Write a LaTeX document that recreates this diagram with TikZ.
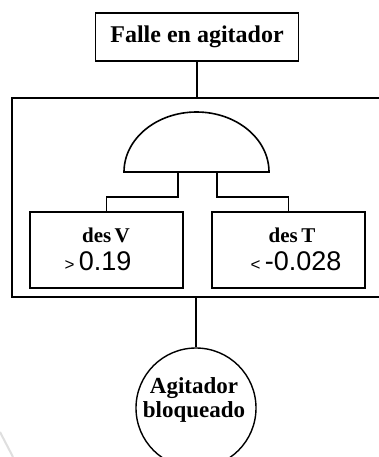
\documentclass[tikz,border=0pt]{standalone}
\usepackage{fontspec}
\setmainfont{Liberation Serif}
\newfontfamily\valfont{Liberation Sans}
\begin{document}
\begin{tikzpicture}[x=1pt,y=-1pt,
  edge/.style={line width=1.6pt},
  boxstyle/.style={draw,line width=1.6pt,fill=white,inner sep=0pt},
  lbl/.style={font=\bfseries\fontsize{21}{23}\selectfont,inner sep=0pt},
  val/.style={font=\valfont\fontsize{27}{29}\selectfont,inner sep=0pt}]
\useasboundingbox (0,0) rectangle (379,457);
\fill[white] (0,0) rectangle (379,457);
% main frame
\node[boxstyle,minimum width=368pt,minimum height=199pt] (big) at (196,197.5) {};
% top event
\node[boxstyle,minimum width=203pt,minimum height=48pt,
      font=\bfseries\fontsize{24}{26}\selectfont] (top) at (197,37) {Falle en agitador};
\draw[edge] (top.south) -- (top.south |- big.north);
% AND gate
\coordinate (gate) at (196.5,172);
\draw[edge] (124,172) arc[start angle=180,end angle=0,x radius=72.5pt,y radius=60pt] -- cycle;
\coordinate (gl) at (178,172);
\coordinate (gr) at (217,172);
% basic events
\node[boxstyle,minimum width=153pt,minimum height=76pt] (bv) at (106.5,250) {};
\node[boxstyle,minimum width=153pt,minimum height=76pt] (bt) at (288.5,250) {};
\draw[edge] (gl) -- ++(0,25) -| (bv.north);
\draw[edge] (gr) -- ++(0,25) -| (bt.north);
\node[lbl] (nv) at (106,235) {des\,V};
\node[val] (vv) at (98,261) {{\fontsize{17}{18}\selectfont >}\,0.19};
\node[lbl] (nt) at (292,235) {des\,T};
\node[val] (vt) at (296,261) {{\fontsize{17}{18}\selectfont <}\,-0.028};
% bottom circle
\node[draw,circle,line width=1.4pt,fill=white,minimum size=120pt,inner sep=0pt] (c) at (196,408) {};
\draw[edge] (big.south) -- (c.north);
\node[font=\bfseries\fontsize{23}{24}\selectfont,align=center,inner sep=0pt] (ct) at (194,400)
  {Agitador\\bloqueado};
% faint artifact
\draw[gray!25,line width=2pt] (0,432) -- (13,457);
\end{tikzpicture}
\end{document}
